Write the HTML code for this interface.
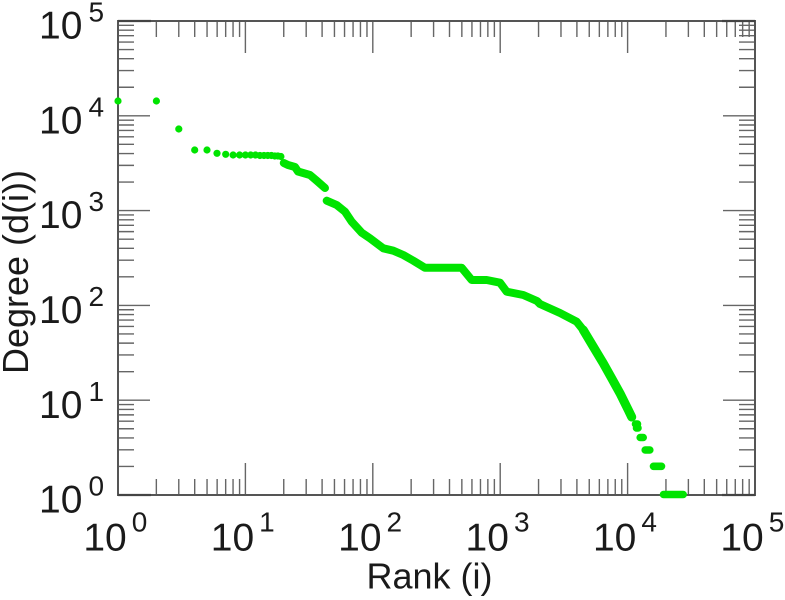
<!DOCTYPE html>
<html>
<head>
<meta charset="utf-8">
<style>
html,body{margin:0;padding:0;background:#fff;}
svg{display:block;}
text{font-family:"Liberation Sans",Arial,sans-serif;fill:#1a1a1a;}
</style>
</head>
<body>
<svg width="785" height="600" viewBox="0 0 785 600" xmlns="http://www.w3.org/2000/svg">
<rect x="0" y="0" width="785" height="600" fill="#fff"/>

<!-- ticks -->
<g stroke="#666" stroke-width="1.4" fill="none">
<path d="M156.35 495V479M178.78 495V479M194.70 495V479M207.05 495V479M217.14 495V479M225.67 495V479M233.05 495V479M239.57 495V479
M283.75 495V479M306.18 495V479M322.10 495V479M334.45 495V479M344.54 495V479M353.07 495V479M360.45 495V479M366.97 495V479
M411.15 495V479M433.58 495V479M449.50 495V479M461.85 495V479M471.94 495V479M480.47 495V479M487.85 495V479M494.37 495V479
M538.55 495V479M560.98 495V479M576.90 495V479M589.25 495V479M599.34 495V479M607.87 495V479M615.25 495V479M621.77 495V479
M665.95 495V479M688.38 495V479M704.30 495V479M716.65 495V479M726.74 495V479M735.27 495V479M742.65 495V479M749.17 495V479
M245.4 495V463M372.8 495V463M500.2 495V463M627.6 495V463"/>
<path d="M156.35 21V37M178.78 21V37M194.70 21V37M207.05 21V37M217.14 21V37M225.67 21V37M233.05 21V37M239.57 21V37
M283.75 21V37M306.18 21V37M322.10 21V37M334.45 21V37M344.54 21V37M353.07 21V37M360.45 21V37M366.97 21V37
M411.15 21V37M433.58 21V37M449.50 21V37M461.85 21V37M471.94 21V37M480.47 21V37M487.85 21V37M494.37 21V37
M538.55 21V37M560.98 21V37M576.90 21V37M589.25 21V37M599.34 21V37M607.87 21V37M615.25 21V37M621.77 21V37
M665.95 21V37M688.38 21V37M704.30 21V37M716.65 21V37M726.74 21V37M735.27 21V37M742.65 21V37M749.17 21V37
M245.4 21V53M372.8 21V53M500.2 21V53M627.6 21V53"/>
<path d="M118 466.46H134M118 449.77H134M118 437.92H134M118 428.74H134M118 421.23H134M118 414.88H134M118 409.39H134M118 404.54H134
M118 371.66H134M118 354.97H134M118 343.12H134M118 333.94H134M118 326.43H134M118 320.08H134M118 314.59H134M118 309.74H134
M118 276.86H134M118 260.17H134M118 248.32H134M118 239.14H134M118 231.63H134M118 225.28H134M118 219.79H134M118 214.94H134
M118 182.06H134M118 165.37H134M118 153.52H134M118 144.34H134M118 136.83H134M118 130.48H134M118 124.99H134M118 120.14H134
M118 87.26H134M118 70.57H134M118 58.72H134M118 49.54H134M118 42.03H134M118 35.68H134M118 30.19H134M118 25.34H134
M118 400.2H150M118 305.4H150M118 210.6H150M118 115.8H150"/>
<path d="M755 466.46H739M755 449.77H739M755 437.92H739M755 428.74H739M755 421.23H739M755 414.88H739M755 409.39H739M755 404.54H739
M755 371.66H739M755 354.97H739M755 343.12H739M755 333.94H739M755 326.43H739M755 320.08H739M755 314.59H739M755 309.74H739
M755 276.86H739M755 260.17H739M755 248.32H739M755 239.14H739M755 231.63H739M755 225.28H739M755 219.79H739M755 214.94H739
M755 182.06H739M755 165.37H739M755 153.52H739M755 144.34H739M755 136.83H739M755 130.48H739M755 124.99H739M755 120.14H739
M755 87.26H739M755 70.57H739M755 58.72H739M755 49.54H739M755 42.03H739M755 35.68H739M755 30.19H739M755 25.34H739
M755 400.2H723M755 305.4H723M755 210.6H723M755 115.8H723"/>
</g>
<rect x="118" y="21" width="637" height="474" fill="none" stroke="#555" stroke-width="2"/>
<path d="M118 495H151M118 21H151M755 495H722M755 21H722" stroke="#444" stroke-width="2.2" fill="none"/>

<!-- data -->
<g fill="#00e400">
<circle cx="118" cy="101" r="3.6"/>
<circle cx="156.4" cy="101" r="3.6"/>
<circle cx="178.8" cy="129" r="3.6"/>
<circle cx="194.7" cy="150" r="3.6"/>
<circle cx="207" cy="150" r="3.6"/>
<circle cx="217" cy="153.3" r="3.6"/>
<circle cx="225.7" cy="154.3" r="3.6"/>
<circle cx="233.1" cy="155" r="3.6"/>
<circle cx="239.6" cy="155" r="3.6"/>
<circle cx="245.4" cy="155" r="3.6"/>
<circle cx="250.7" cy="155" r="3.6"/>
<circle cx="255.5" cy="155" r="3.6"/>
<circle cx="259.9" cy="155.5" r="3.6"/>
<circle cx="264" cy="155.5" r="3.6"/>
<circle cx="267.8" cy="155.5" r="3.6"/>
<circle cx="271.4" cy="155.5" r="3.6"/>
<circle cx="274.8" cy="156" r="3.6"/>
<circle cx="277.9" cy="156" r="3.6"/>
<circle cx="280.9" cy="156.5" r="3.6"/>
</g>
<g stroke="#00e400" stroke-width="8" stroke-linecap="round" stroke-linejoin="round" fill="none">
<polyline points="283.8,163 288,165 295,167 298,171.5 310,175 316.7,180.7 325,188"/>
<polyline points="326.7,200.7 336.7,205 345,211.7 351.7,221.7 361.7,232.7 370,238.3 383.3,248.3 393.3,250.7 403.3,255 413.3,260.7 425,267.8 461.7,267.8 471.7,280 486.7,280 500,282.7 506.7,291.7 523.3,295 537,301 540,304 560,313 576.7,321.7 583.3,330 593.3,346.7 603.3,363.3 611.7,378.3 620,393.3 628.3,410 631.7,417"/>
<polyline stroke-width="9" points="583.3,330 593.3,346.7 603.3,363.3 611.7,378.3 620,393.3 628.3,410 631.7,417"/>
<path stroke-width="7.6" d="M635.5 424H637.5M636.5 428H638M640.2 437.5H643.2M645.2 450H649.8M653.5 466.3H661.5M663.5 494.5H683.2"/>
</g>

<!-- x tick labels -->
<g font-size="39">
<text x="83.35" y="550.7">10<tspan dx="5" dy="-19" font-size="28">0</tspan></text>
<text x="210.75" y="550.7">10<tspan dx="5" dy="-19" font-size="28">1</tspan></text>
<text x="338.15" y="550.7">10<tspan dx="5" dy="-19" font-size="28">2</tspan></text>
<text x="465.55" y="550.7">10<tspan dx="5" dy="-19" font-size="28">3</tspan></text>
<text x="592.95" y="550.7">10<tspan dx="5" dy="-19" font-size="28">4</tspan></text>
<text x="720.35" y="550.7">10<tspan dx="5" dy="-19" font-size="28">5</tspan></text>
</g>
<!-- y tick labels -->
<g font-size="39">
<text x="39.05" y="512.6">10<tspan dx="6" dy="-17" font-size="28">0</tspan></text>
<text x="39.05" y="417.8">10<tspan dx="6" dy="-17" font-size="28">1</tspan></text>
<text x="39.05" y="323">10<tspan dx="6" dy="-17" font-size="28">2</tspan></text>
<text x="39.05" y="228.2">10<tspan dx="6" dy="-17" font-size="28">3</tspan></text>
<text x="39.05" y="133.4">10<tspan dx="6" dy="-17" font-size="28">4</tspan></text>
<text x="39.05" y="38.6">10<tspan dx="6" dy="-17" font-size="28">5</tspan></text>
</g>

<text x="429.5" y="588.5" font-size="36" text-anchor="middle">Rank (i)</text>
<text x="0" y="0" font-size="36" text-anchor="middle" transform="translate(28,272) rotate(-90)">Degree (d(i))</text>
</svg>
</body>
</html>
